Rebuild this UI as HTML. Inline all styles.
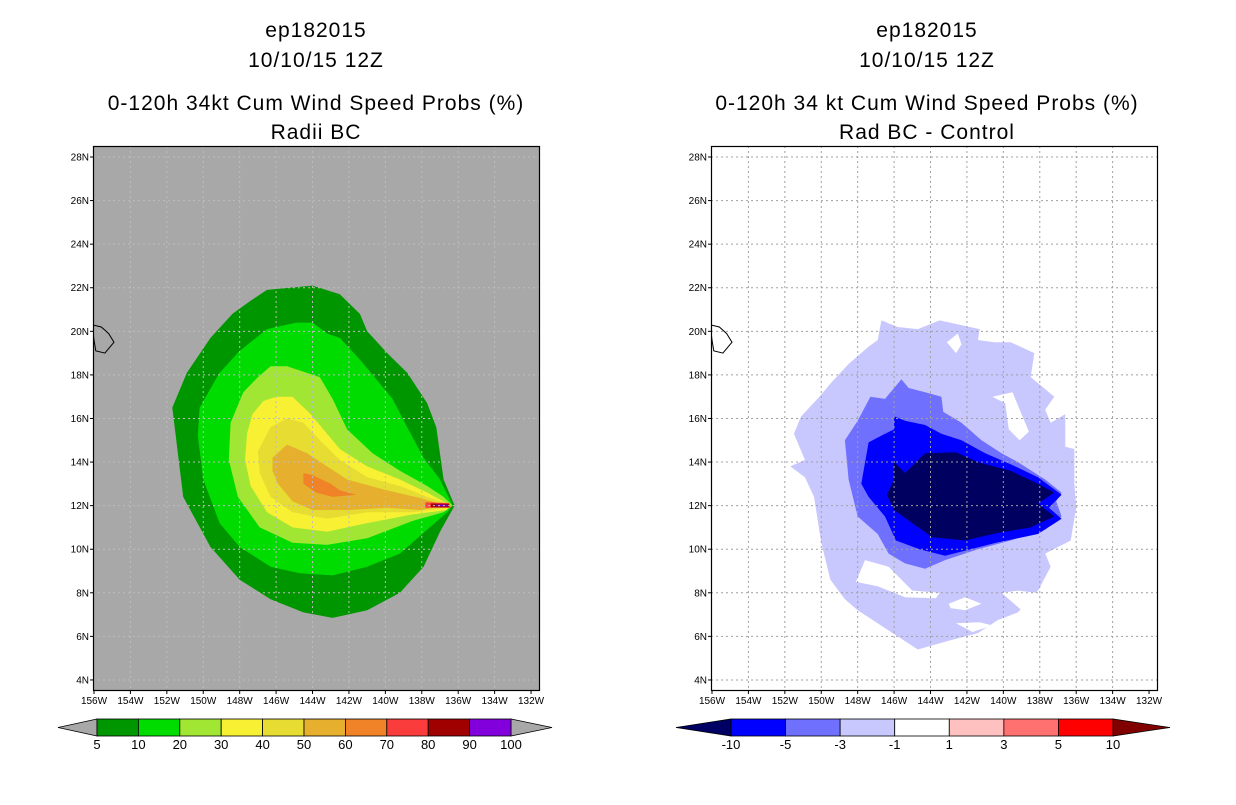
<!DOCTYPE html>
<html><head><meta charset="utf-8"><style>
body{margin:0;background:#fff;}
svg text{font-family:"Liberation Sans",sans-serif;}
</style></head><body>
<svg id="s" width="1236" height="800" xmlns="http://www.w3.org/2000/svg"></svg>
<script>
const titles=[["ep182015","10/10/15 12Z","0-120h 34kt Cum Wind Speed Probs (%)","Radii BC"],["ep182015","10/10/15 12Z","0-120h 34 kt Cum Wind Speed Probs (%)","Rad BC - Control"]];
const lonTicks=[156,154,152,150,148,146,144,142,140,138,136,134,132];
const latTicks=[4,6,8,10,12,14,16,18,20,22,24,26,28];
const leftLevels=["5","10","20","30","40","50","60","70","80","90","100"];
const leftColors=["#009600","#00dc00","#a0e632","#f8f032","#e6dc32","#e6af2d","#f08228","#fa3c3c","#a00000","#8200dc"];
const rightLevels=["-10","-5","-3","-1","1","3","5","10"];
const rightColors=["#0000ff","#7070ff","#c8c8ff","#ffffff","#ffc0c0","#ff7070","#ff0000"];
const hawaii=[[156.1,20.3],[155.6,20.2],[155.2,19.9],[154.9,19.5],[155.4,19.0],[155.9,19.1],[156.0,19.6]];
const probContours=[
{c:"#009600",p:[[146.5,21.9],[144.0,22.1],[142.5,21.7],[141.4,20.8],[141.0,20.0],[139.9,19.0],[138.8,18.1],[137.7,16.7],[137.2,15.6],[136.8,13.2],[136.2,12.0],[137.0,10.8],[137.9,9.2],[139.2,8.0],[141.0,7.2],[142.9,6.85],[144.5,7.1],[146.3,7.7],[148.0,8.6],[149.6,10.1],[151.1,12.4],[151.7,16.5],[150.9,18.1],[149.6,19.7],[148.4,20.8],[147.4,21.4]]},
{c:"#00dc00",p:[[144.9,20.4],[144.0,20.4],[143.2,19.9],[142.5,19.7],[141.4,18.7],[140.5,17.8],[139.6,16.9],[138.8,15.6],[137.9,14.2],[137.0,13.2],[136.3,12.0],[136.6,11.7],[137.7,10.9],[139.2,9.8],[141.0,9.2],[142.9,8.8],[144.7,8.9],[146.3,9.2],[148.0,10.1],[149.1,11.2],[150.0,13.2],[150.3,15.2],[150.2,16.5],[149.1,18.1],[148.0,19.1],[146.5,20.1]]},
{c:"#a0e632",p:[[146.3,18.4],[145.4,18.4],[143.6,17.9],[142.9,16.9],[142.1,15.5],[140.7,14.4],[139.2,13.6],[137.7,12.9],[136.8,12.4],[136.3,12.0],[136.8,11.7],[138.5,11.3],[141.0,10.5],[143.2,10.2],[145.1,10.3],[146.9,11.0],[148.1,12.4],[148.6,14.1],[148.5,15.8],[147.8,17.2],[147.0,17.9]]},
{c:"#f8f032",p:[[146.0,17.0],[145.1,17.0],[144.1,16.2],[143.4,15.5],[142.5,14.6],[141.0,13.8],[139.2,13.2],[137.7,12.6],[136.6,12.1],[136.6,11.8],[138.5,11.6],[141.0,11.2],[143.2,10.8],[145.1,11.0],[146.5,11.7],[147.4,12.9],[147.7,14.1],[147.6,15.3],[147.3,16.2],[146.7,16.8]]},
{c:"#e6dc32",p:[[146.3,15.6],[145.4,16.0],[144.5,15.8],[143.6,15.0],[142.5,14.1],[141.0,13.3],[139.2,12.9],[137.7,12.4],[136.6,12.1],[136.6,11.9],[138.5,11.7],[141.0,11.7],[143.2,11.4],[145.1,11.7],[146.3,12.4],[146.9,13.5],[147.0,14.5]]},
{c:"#e6af2d",p:[[146.2,14.2],[145.4,14.8],[144.3,14.4],[143.2,13.8],[142.1,13.2],[139.9,12.7],[138.1,12.35],[136.6,12.0],[138.1,11.8],[139.9,11.9],[142.1,11.8],[144.0,11.8],[145.1,12.2],[145.9,13.0],[146.2,13.6]]},
{c:"#f08228",p:[[144.5,13.5],[144.0,13.4],[143.0,13.0],[142.5,12.7],[141.6,12.5],[142.9,12.4],[143.8,12.6],[144.5,13.0]]},
{c:"#fa3c3c",p:[[137.8,12.15],[136.5,12.12],[136.4,11.9],[137.8,11.9]]},
{c:"#a00000",p:[[137.5,12.1],[136.5,12.08],[136.5,11.93],[137.5,11.93]]},
{c:"#8200dc",p:[[137.2,12.05],[136.6,12.05],[136.6,11.97],[137.2,11.97]]}
];
const diffContours=[
{c:"#c8c8ff",p:[[146.7,20.5],[145.8,20.2],[144.7,20.1],[143.5,20.5],[142.4,20.3],[141.3,20.1],[141.4,19.6],[140.5,19.5],[139.6,19.5],[138.3,19.0],[138.5,17.9],[137.2,17.0],[137.7,16.4],[137.4,15.8],[136.6,16.2],[136.6,14.7],[136.1,14.6],[136.1,13.0],[136.0,11.9],[136.3,10.4],[137.7,9.8],[137.4,9.2],[138.1,8.1],[139.2,7.1],[140.3,6.75],[141.4,6.15],[143.0,5.8],[144.7,5.4],[145.8,6.0],[148.0,7.2],[148.7,7.7],[149.5,8.6],[150.0,10.3],[150.4,12.4],[150.9,13.3],[151.7,13.8],[150.9,14.1],[151.5,15.3],[151.1,16.1],[150.1,17.0],[149.5,17.6],[148.5,18.5],[147.4,19.3],[146.9,19.6]]},
{c:"#ffffff",p:[[143.1,19.5],[142.5,19.9],[142.3,19.4],[142.6,19.0]]},
{c:"#ffffff",p:[[140.6,17.0],[139.5,17.2],[139.1,16.4],[138.6,15.4],[139.1,15.0],[139.7,15.5],[139.9,16.7]]},
{c:"#ffffff",p:[[147.6,9.5],[146.3,9.2],[145.0,8.1],[143.5,8.0],[143.7,7.75],[145.4,7.8],[146.9,8.3],[148.1,8.5]]},
{c:"#ffffff",p:[[143.0,7.5],[142.1,7.8],[141.2,7.5],[142.1,7.2],[142.9,7.3]]},
{c:"#ffffff",p:[[142.6,6.6],[141.3,6.65],[140.6,6.5],[141.7,6.2]]},
{c:"#ffffff",p:[[140.1,8.0],[139.2,8.1],[138.2,8.0],[139.0,7.2]]},
{c:"#7070ff",p:[[145.6,17.8],[145.2,17.4],[144.3,17.2],[143.4,17.0],[143.3,16.3],[142.3,15.8],[141.2,15.0],[140.1,14.4],[139.2,14.0],[137.7,13.2],[136.8,12.6],[137.1,12.2],[136.8,11.5],[137.7,10.9],[139.6,10.4],[141.4,10.0],[143.2,9.5],[144.3,9.1],[145.4,9.35],[146.3,9.8],[146.9,10.7],[148.0,11.5],[148.5,13.2],[148.7,15.0],[148.0,15.9],[147.3,17.0],[146.5,16.9]]},
{c:"#0000ff",p:[[146.0,16.1],[145.4,15.9],[144.3,15.7],[143.4,15.3],[142.3,15.0],[141.0,14.4],[139.6,13.9],[138.1,13.3],[136.8,12.5],[137.5,11.9],[136.8,11.4],[138.1,10.7],[140.4,10.3],[143.2,9.7],[144.6,10.0],[145.9,10.4],[146.5,11.5],[147.4,12.4],[147.8,13.0],[147.4,14.9],[146.5,15.3],[146.0,15.5]]},
{c:"#000060",p:[[146.0,14.0],[145.4,13.5],[144.3,14.4],[142.6,14.45],[141.4,14.0],[139.6,13.6],[138.1,13.0],[137.2,12.6],[138.1,12.1],[137.2,11.5],[138.5,11.0],[140.3,10.75],[142.1,10.4],[143.9,10.55],[145.0,11.2],[146.0,11.8],[146.4,12.5],[146.0,13.2]]}
];
const NS="http://www.w3.org/2000/svg";
const svg=document.getElementById('s');
function mk(t,a,parent){const e=document.createElementNS(NS,t);for(const k in a)e.setAttribute(k,a[k]);(parent||svg).appendChild(e);return e;}
const panels=[{x0:93,cx:316,bg:"#a8a8a8",grid:"#bdbdbd",cont:probContours,name:"left"},{x0:711,cx:927,bg:"#ffffff",grid:"#a0a0a0",cont:diffContours,name:"right"}];
const TOP=146,BOT=690,W=446;
panels.forEach((P,pi)=>{
  const g=mk('g',{});
  
  
  const X=lon=>P.x0+1+(156-lon)*18.21;
  const Y=lat=>157+(28-lat)*21.79;
  const cp=mk('clipPath',{id:'cp'+pi},g);mk('rect',{x:P.x0,y:TOP,width:W,height:BOT-TOP},cp);
  const bg=mk('rect',{x:P.x0,y:TOP,width:W,height:BOT-TOP,fill:P.bg},g);
  
  
  const cg=mk('g',{'clip-path':'url(#cp'+pi+')'},g);
  P.cont.forEach((c,i)=>{
    const pg=mk('polygon',{points:c.p.map(q=>X(q[0]).toFixed(1)+','+Y(q[1]).toFixed(1)).join(' '),fill:c.c},cg);
    
    
  });
  lonTicks.forEach(l=>{if(l<156&&l>132){const ln=mk('line',{x1:X(l),x2:X(l),y1:TOP,y2:BOT,stroke:P.grid,'stroke-width':1,'stroke-dasharray':'2,3'},cg);
    }});
  latTicks.forEach(l=>{const ln=mk('line',{x1:P.x0,x2:P.x0+W,y1:Y(l),y2:Y(l),stroke:P.grid,'stroke-width':1,'stroke-dasharray':'2,3'},cg);
    });
  const hw=mk('polygon',{points:hawaii.map(q=>X(q[0]).toFixed(1)+','+Y(q[1]).toFixed(1)).join(' '),fill:'none',stroke:'#000','stroke-width':1},cg);
  
  const fr=mk('rect',{x:P.x0+0.5,y:TOP+0.5,width:W,height:BOT-TOP,fill:'none',stroke:'#000','stroke-width':1.2},g);
  
  lonTicks.forEach(l=>{const t=mk('text',{x:X(l),y:704,'font-size':10,'text-anchor':'middle'},g);t.textContent=l+'W';
    
    mk('line',{x1:X(l),x2:X(l),y1:BOT,y2:BOT+4,stroke:'#000'},g);});
  latTicks.forEach(l=>{const t=mk('text',{x:P.x0-4,y:Y(l)+3.5,'font-size':10,'text-anchor':'end'},g);t.textContent=l+'N';
    
    mk('line',{x1:P.x0-3,x2:P.x0,y1:Y(l),y2:Y(l),stroke:'#000'},g);});
  const ty=[37,67,110,139];
  titles[pi].forEach((s,i)=>{const t=mk('text',{x:P.cx,y:ty[i],'font-size':21,'text-anchor':'middle','letter-spacing':'1'},g);t.textContent=s;
    });
});
function colorbar(x0,x1,tl,tr,colors,labels,lcol,rcol,name){
  const g=mk('g',{});
  
  
  const y0=719,y1=736,ym=727.5,n=colors.length,w=(x1-x0)/n;
  mk('polygon',{points:`${tl},${ym} ${x0},${y0} ${x0},${y1}`,fill:lcol,stroke:'#000','stroke-width':0.8},g);
  mk('polygon',{points:`${tr},${ym} ${x1},${y0} ${x1},${y1}`,fill:rcol,stroke:'#000','stroke-width':0.8},g);
  colors.forEach((c,i)=>{const r=mk('rect',{x:x0+i*w,y:y0,width:w,height:y1-y0,fill:c,stroke:'#000','stroke-width':0.8},g);
    });
  labels.forEach((s,i)=>{const t=mk('text',{x:x0+i*w,y:749,'font-size':13,'text-anchor':'middle'},g);t.textContent=s;
    });
}
colorbar(97,511,58,552,leftColors,leftLevels,'#a8a8a8','#a8a8a8','left-colorbar');
colorbar(731,1113,676,1170,rightColors,rightLevels,'#000064','#800000','right-colorbar');
</script>
</body></html>
